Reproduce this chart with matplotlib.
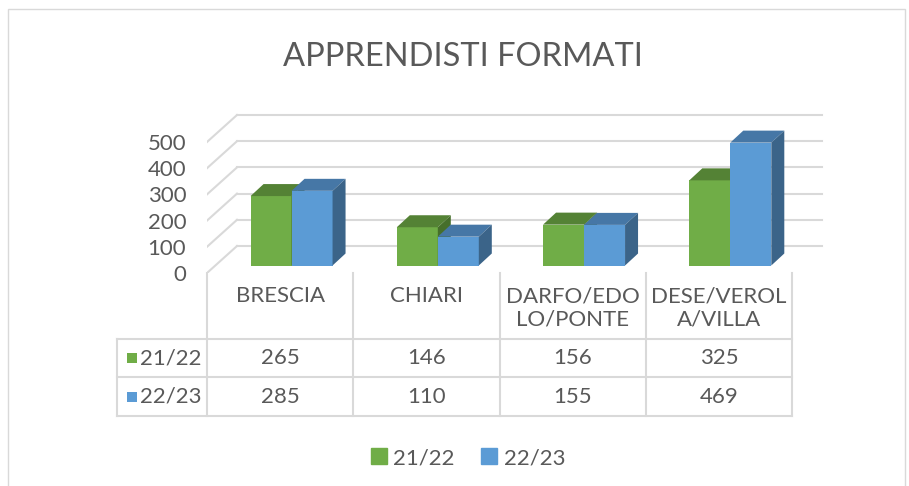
import matplotlib.pyplot as plt
from matplotlib.patches import Polygon, Rectangle, Patch

plt.rcParams['font.family'] = ['Lato', 'DejaVu Sans']

# -----------------------------
# Data
# -----------------------------
categories = ["BRESCIA", "CHIARI", "DARFO/EDO\nLO/PONTE", "DESE/VEROL\nA/VILLA"]
series_names = ["21/22", "22/23"]
values_2122 = [265, 146, 156, 325]
values_2223 = [285, 110, 155, 469]
y_ticks = [0, 100, 200, 300, 400, 500]

# colours: front, top, side
green = ("#70AD47", "#548235", "#466F2B")
blue = ("#5B9BD5", "#4677A6", "#3B6489")
text_col = "#595959"
grid_col = "#D9D9D9"

W, H = 909, 486
fig = plt.figure(figsize=(W / 100, H / 100), dpi=100)


def fx(px):
    return px / W


def fy(py):
    return 1 - py / H


# -----------------------------
# Plot area (front plane of the 3D box)
# -----------------------------
x0, x1 = 207, 830
yb, yt = 273, 100
cat_px = 146.25
unit_px = 0.262

ax = fig.add_axes([fx(x0), fy(yb), (x1 - x0) / W, (yb - yt) / H])
ax.set_xlim(0, (x1 - x0) / cat_px)
ax.set_ylim(0, (yb - yt) / unit_px)
for s in ax.spines.values():
    s.set_visible(False)
ax.set_xticks([])
ax.set_yticks(y_ticks)
ax.tick_params(axis="y", length=0, pad=15, labelsize=16, labelcolor=text_col)

# depth of walls and bars, in data units
wdx, wdy = 30 / cat_px, 27 / unit_px
bdx, bdy = 13 / cat_px, 12 / unit_px
sdx, sdy = (wdx - bdx) / 2, (wdy - bdy) / 2
n = len(categories)

# back wall gridlines + side wall diagonals
for v in y_ticks:
    ax.plot([wdx, n + wdx], [v + wdy, v + wdy], color=grid_col, lw=1.5, zorder=1)
    ax.plot([0, wdx], [v, v + wdy], color=grid_col, lw=1.5, zorder=1)

# 3D bars
bw = 41 / cat_px
for i in range(n):
    c = i + 0.5 + sdx + 0.02
    for x_left, v, col in [(c - bw, values_2122[i], green), (c, values_2223[i], blue)]:
        ax.bar(x_left, v, bw, bottom=sdy, align="edge", color=col[0], lw=0, zorder=3)
        top = [(x_left, v + sdy), (x_left + bdx, v + sdy + bdy),
               (x_left + bw + bdx, v + sdy + bdy), (x_left + bw, v + sdy)]
        side = [(x_left + bw, sdy), (x_left + bw + bdx, sdy + bdy),
                (x_left + bw + bdx, v + sdy + bdy), (x_left + bw, v + sdy)]
        ax.add_patch(Polygon(top, closed=True, fc=col[1], lw=0, zorder=3))
        ax.add_patch(Polygon(side, closed=True, fc=col[2], lw=0, zorder=3))

# -----------------------------
# Data table
# -----------------------------
tab = fig.add_axes([fx(x0), fy(416), (x1 - x0) / W, (416 - 273) / H])
tab.set_xlim(ax.get_xlim())
tab.set_ylim(0, 3.7)
tab.axis("off")
lab_left = (117 - x0) / cat_px

for i in range(n + 1):
    tab.plot([i, i], [0, 3.7], color=grid_col, lw=1.5, clip_on=False)
for yy in [0, 1, 2]:
    tab.plot([lab_left, n], [yy, yy], color=grid_col, lw=1.5, clip_on=False)
tab.plot([lab_left, lab_left], [0, 2], color=grid_col, lw=1.5, clip_on=False)

for i, cat in enumerate(categories):
    tab.text(i + 0.5, 3.36, cat, ha="center", va="top", fontsize=16,
             color=text_col, linespacing=1.2)

for row_y, name, vals, col in [(1.5, series_names[0], values_2122, green),
                               (0.5, series_names[1], values_2223, blue)]:
    tab.scatter([(132 - x0) / cat_px], [row_y], marker="s", s=55, color=col[0],
                clip_on=False, linewidths=0)
    tab.text((140 - x0) / cat_px, row_y, name, ha="left", va="center",
             fontsize=16, color=text_col)
    for i, v in enumerate(vals):
        tab.text(i + 0.5, row_y, str(v), ha="center", va="center",
                 fontsize=16, color=text_col)

# -----------------------------
# Title, legend, border
# -----------------------------
fig.text(fx(463), fy(57), "APPRENDISTI FORMATI", ha="center", va="center",
         fontsize=23.5, color=text_col)

fig.legend(handles=[Patch(color=green[0]), Patch(color=blue[0])],
           labels=series_names, loc="center", bbox_to_anchor=(fx(468), fy(458)),
           ncol=2, frameon=False, handlelength=0.7, handleheight=0.7,
           handletextpad=0.3, columnspacing=1.2, fontsize=16,
           labelcolor=text_col)

fig.add_artist(Rectangle((fx(8), fy(490)), (905 - 8) / W, (490 - 9) / H,
                         fill=False, ec=grid_col, lw=1, transform=fig.transFigure))

fig.savefig("out.png", dpi=100)
